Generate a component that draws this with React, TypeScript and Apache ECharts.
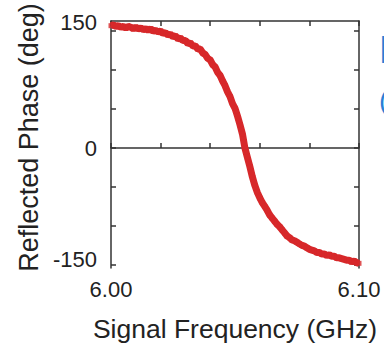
import React, { useEffect, useRef } from "react";
import * as echarts from "echarts";

const frequencies = [
  6.000, 6.001, 6.002, 6.003, 6.004, 6.005, 6.006, 6.007, 6.008, 6.009,
  6.010, 6.011, 6.012, 6.013, 6.014, 6.015, 6.016, 6.017, 6.018, 6.019,
  6.020, 6.021, 6.022, 6.023, 6.024, 6.025, 6.026, 6.027, 6.028, 6.029,
  6.030, 6.031, 6.032, 6.033, 6.034, 6.035, 6.036, 6.037, 6.038, 6.039,
  6.040, 6.041, 6.042, 6.043, 6.044, 6.045, 6.046, 6.047, 6.048, 6.049,
  6.050, 6.051, 6.052, 6.053, 6.054, 6.055, 6.056, 6.057, 6.058, 6.059,
  6.060, 6.061, 6.062, 6.063, 6.064, 6.065, 6.066, 6.067, 6.068, 6.069,
  6.070, 6.071, 6.072, 6.073, 6.074, 6.075, 6.076, 6.077, 6.078, 6.079,
  6.080, 6.081, 6.082, 6.083, 6.084, 6.085, 6.086, 6.087, 6.088, 6.089,
  6.090, 6.091, 6.092, 6.093, 6.094, 6.095, 6.096, 6.097, 6.098, 6.099,
  6.100,
];

const phases = [
  157, 158, 156, 157, 155, 156, 154, 156, 155, 153,
  155, 153, 154, 152, 153, 151, 153, 150, 151, 149,
  150, 147, 148, 145, 146, 143, 144, 140, 141, 138,
  138, 134, 135, 131, 131, 127, 127, 122, 120, 115,
  113, 107, 104, 97, 93, 86, 80, 72, 66, 57,
  51, 41, 30, 18, 0, -12, -24, -37, -48, -57,
  -64, -70, -75, -80, -86, -90, -94, -98, -101, -105,
  -109, -113, -115, -118, -119, -121, -123, -125, -126, -128,
  -130, -131, -132, -134, -134, -136, -136, -138, -137, -139,
  -139, -141, -141, -142, -143, -144, -144, -146, -145, -147,
  -148,
];

const xTicks = [6.0, 6.02, 6.04, 6.06, 6.08, 6.1];
const xLabels = [6.0, 6.1];
const yTicks = [-150, -100, -50, 0, 50, 100, 150];
const yLabels = [-150, 0, 150];

export default function App() {
  const ref = useRef<HTMLDivElement>(null);
  useEffect(() => {
    if (!ref.current) return;
    const chart = echarts.init(ref.current, null, { renderer: "svg" });
    const data = frequencies.map((f, i) => [f, phases[i]]);
    const axisColor = "#333333";
    const font = "Liberation Sans, Arial, sans-serif";
    const red = "#d7282a";
    const labelStyle = { fontFamily: font, fontSize: 22, color: "#222" };
    chart.setOption({
      animation: false,
      backgroundColor: "#ffffff",
      grid: { left: 111, right: 25, top: 21, bottom: 77, outerBoundsMode: "none" },
      xAxis: [
        {
          type: "value",
          min: 6.0,
          max: 6.1,
          name: "Signal Frequency (GHz)",
          nameLocation: "middle",
          nameGap: 47,
          nameTextStyle: { fontFamily: font, fontSize: 26.5, color: "#222" },
          axisLine: { show: true, lineStyle: { color: axisColor, width: 1.5 } },
          axisTick: { show: true, inside: true, length: 5, customValues: xTicks, lineStyle: { color: axisColor, width: 1.5 } },
          axisLabel: {
            customValues: xLabels,
            margin: 10,
            ...labelStyle,
            formatter: (v: number) => v.toFixed(2),
          },
          splitLine: { show: false },
        },
        {
          type: "value",
          position: "top",
          min: 6.0,
          max: 6.1,
          axisLine: { show: true, onZero: false, lineStyle: { color: axisColor, width: 1.5 } },
          axisTick: { show: true, inside: true, length: 5, customValues: xTicks, lineStyle: { color: axisColor, width: 1.5 } },
          axisLabel: { show: false },
          splitLine: { show: false },
        },
      ],
      yAxis: [
        {
          type: "value",
          min: -154,
          max: 163,
          name: "Reflected Phase (deg)",
          nameLocation: "middle",
          nameGap: 64,
          nameTextStyle: { fontFamily: font, fontSize: 27, color: "#222", padding: [0, 0, 0, 14] },
          axisLine: { show: true, lineStyle: { color: axisColor, width: 1.5 } },
          axisTick: { show: true, inside: true, length: 5, customValues: yTicks, lineStyle: { color: axisColor, width: 1.5 } },
          axisLabel: {
            customValues: yLabels,
            margin: 14,
            ...labelStyle,
            formatter: (v: number) =>
              v === 150 ? "{up|150}" : v === -150 ? "{mid|-150}" : String(v),
            rich: {
              up: { ...labelStyle, padding: [0, 0, 18, 0] },
              mid: { ...labelStyle, padding: [0, 0, 10, 0] },
            },
          },
          splitLine: { show: false },
        },
        {
          type: "value",
          position: "right",
          min: -154,
          max: 163,
          axisLine: { show: true, onZero: false, lineStyle: { color: axisColor, width: 1.5 } },
          axisTick: { show: true, inside: true, length: 5, customValues: yTicks, lineStyle: { color: axisColor, width: 1.5 } },
          axisLabel: { show: false },
          splitLine: { show: false },
        },
      ],
      graphic: [
        { type: "text", left: 379, top: 31, style: { text: "F", fontFamily: font, fontSize: 38, fill: "#2a7fd6" } },
        { type: "text", left: 379, top: 86, style: { text: "(", fontFamily: font, fontSize: 28, fill: "#2a7fd6" } },
      ],
      series: [
        {
          type: "line",
          data,
          showSymbol: false,
          symbol: "none",
          lineStyle: { color: red, width: 7 },
          z: 2,
        },
        {
          type: "scatter",
          data,
          symbol: "rect",
          symbolSize: 5,
          itemStyle: { color: red },
          z: 3,
        },
      ],
    });
    return () => chart.dispose();
  }, []);
  return (
    <div
      ref={ref}
      style={{ position: "fixed", left: 0, top: 0, width: 384, height: 345 }}
    />
  );
}
